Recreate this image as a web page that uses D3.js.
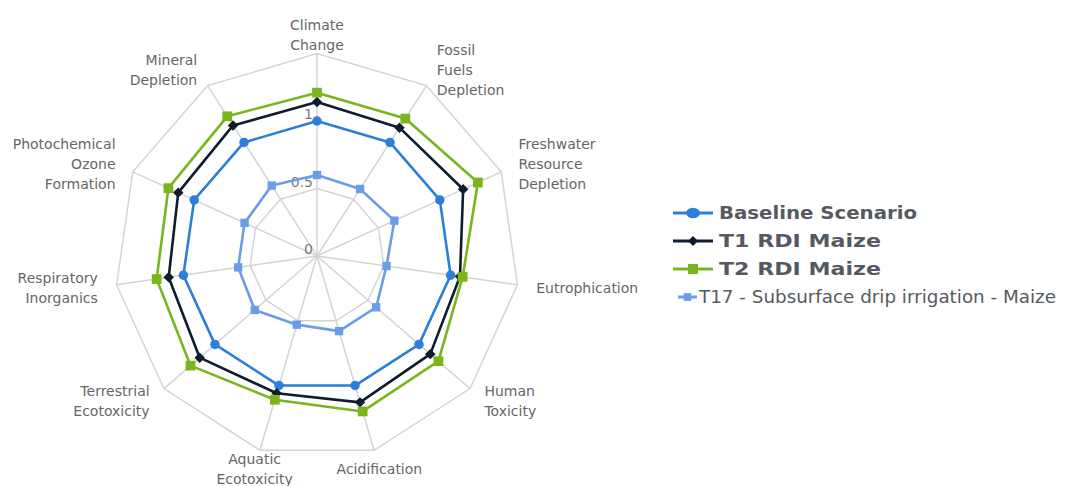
<!DOCTYPE html>
<html>
<head>
<meta charset="utf-8">
<script src="https://cdn.jsdelivr.net/npm/d3@7"></script>
<style>
  html, body { margin: 0; padding: 0; background: #fff; }
  svg { display: block; }
</style>
</head>
<body>
<svg id="chart" width="1068" height="486"></svg>
<script>
// Impact categories, clockwise from the top
const categories = [
  "Climate Change",
  "Fossil Fuels Depletion",
  "Freshwater Resource Depletion",
  "Eutrophication",
  "Human Toxicity",
  "Acidification",
  "Aquatic Ecotoxicity",
  "Terrestrial Ecotoxicity",
  "Respiratory Inorganics",
  "Photochemical Ozone Formation",
  "Mineral Depletion"
];

// How each category label is broken into lines
const categoryLines = [
  ["Climate", "Change"],
  ["Fossil", "Fuels", "Depletion"],
  ["Freshwater", "Resource", "Depletion"],
  ["Eutrophication"],
  ["Human", "Toxicity"],
  ["Acidification"],
  ["Aquatic", "Ecotoxicity"],
  ["Terrestrial", "Ecotoxicity"],
  ["Respiratory", "Inorganics"],
  ["Photochemical", "Ozone", "Formation"],
  ["Mineral", "Depletion"]
];

// Normalised impact values (baseline = 1)
const baselineScenario = [1, 1, 1, 1, 1, 1, 1, 1, 1, 1, 1];
const t1RdiMaize       = [1.14, 1.13, 1.19, 1.07, 1.11, 1.13, 1.06, 1.15, 1.11, 1.13, 1.15];
const t2RdiMaize       = [1.21, 1.21, 1.31, 1.09, 1.19, 1.20, 1.11, 1.24, 1.20, 1.21, 1.23];
const t17Subsurface    = [0.60, 0.59, 0.63, 0.52, 0.58, 0.58, 0.53, 0.61, 0.59, 0.59, 0.62];

const seriesNames = [
  "Baseline Scenario",
  "T1 RDI Maize",
  "T2 RDI Maize",
  "T17 - Subsurface drip irrigation - Maize"
];

const gridLevels = [0.5, 1, 1.5];
const tickValues = [0, 0.5, 1];
const tickLabels = ["0", "0.5", "1"];

// ---- layout ----
const svg = d3.select("#chart");
const cx = 317, cy = 256;
const outerR = 202.5;
const r = d3.scaleLinear().domain([0, 1.5]).range([0, outerR]);
const angle = d3.scaleLinear().domain([0, categories.length]).range([0, 2 * Math.PI]);

const g = svg.append("g").attr("transform", `translate(${cx},${cy})`);

const pt = (i, v) => [Math.sin(angle(i)) * r(v), -Math.cos(angle(i)) * r(v)];

// ---- grid ----
const gridColor = "#d4d4d4";
g.append("g").selectAll("polygon")
  .data(gridLevels)
  .join("polygon")
  .attr("points", lv => categories.map((_, i) => pt(i, lv).join(",")).join(" "))
  .attr("fill", "none")
  .attr("stroke", gridColor)
  .attr("stroke-width", 1.5);

g.append("g").selectAll("line")
  .data(categories)
  .join("line")
  .attr("x1", 0).attr("y1", 0)
  .attr("x2", (_, i) => pt(i, 1.5)[0])
  .attr("y2", (_, i) => pt(i, 1.5)[1])
  .attr("stroke", gridColor)
  .attr("stroke-width", 1.5);

// ---- value ticks along the top spoke ----
g.append("g").selectAll("text")
  .data(tickValues)
  .join("text")
  .attr("x", -4)
  .attr("y", v => -r(v) - 2)
  .attr("text-anchor", "end")
  .attr("font-family", "DejaVu Sans, sans-serif")
  .attr("font-size", 14)
  .attr("fill", "#7a7a7a")
  .text((_, i) => tickLabels[i]);

// ---- category labels ----
const labelR = outerR + 19;
const lineH = 20;
const labels = g.append("g")
  .attr("font-family", "DejaVu Sans, sans-serif")
  .attr("font-size", 14)
  .attr("fill", "#666666");

categories.forEach((name, i) => {
  const a = angle(i);
  const s = Math.sin(a);
  const x = s * labelR;
  const y = -Math.cos(a) * labelR;
  const anchor = Math.abs(s) < 0.3 ? "middle" : (s > 0 ? "start" : "end");
  const lines = categoryLines[i];
  const y0 = y - (lines.length - 1) * lineH / 2 + 5;
  const t = labels.append("text").attr("text-anchor", anchor);
  lines.forEach((ln, k) => {
    t.append("tspan").attr("x", x).attr("y", y0 + k * lineH).text(ln);
  });
});

// ---- series ----
const seriesData = [baselineScenario, t1RdiMaize, t2RdiMaize, t17Subsurface];
const colors = ["#2b7fd8", "#0f1c2e", "#79b51c", "#6a9ce8"];
const markers = ["circle", "diamond", "square", "square"];
const markerSize = [70, 55, 95, 70];

const radial = d3.lineRadial()
  .angle((_, i) => angle(i))
  .radius(v => r(v))
  .curve(d3.curveLinearClosed);

const drawOrder = [3, 0, 1, 2];
drawOrder.forEach(si => {
  const vals = seriesData[si];
  const sg = g.append("g");
  sg.append("path")
    .attr("d", radial(vals))
    .attr("fill", "none")
    .attr("stroke", colors[si])
    .attr("stroke-width", 2.6)
    .attr("stroke-linejoin", "round");

  const sym = d3.symbol()
    .type(markers[si] === "circle" ? d3.symbolCircle : d3.symbolSquare)
    .size(markerSize[si]);

  sg.selectAll("path.m")
    .data(vals)
    .join("path")
    .attr("class", "m")
    .attr("d", sym)
    .attr("transform", (v, i) => {
      const [x, y] = pt(i, v);
      return markers[si] === "diamond"
        ? `translate(${x},${y}) rotate(45)`
        : `translate(${x},${y})`;
    })
    .attr("fill", colors[si]);
});

// ---- legend ----
const legend = svg.append("g").attr("transform", "translate(673,213)");
const rowGap = 28;
const textWidths = [198, 162, 162, 357];

seriesNames.forEach((name, si) => {
  const row = legend.append("g").attr("transform", `translate(0,${si * rowGap})`);
  const isLast = si === 3;
  const x0 = isLast ? 5 : 0;
  const x1 = isLast ? 24 : 40;
  row.append("line")
    .attr("x1", x0).attr("x2", x1)
    .attr("y1", 0).attr("y2", 0)
    .attr("stroke", colors[si])
    .attr("stroke-width", 3);
  const sym = d3.symbol()
    .type(markers[si] === "circle" ? d3.symbolCircle : d3.symbolSquare)
    .size(isLast ? 60 : (markers[si] === "circle" ? 90 : markers[si] === "diamond" ? 50 : 100));
  row.append("path")
    .attr("d", sym)
    .attr("transform", markers[si] === "diamond"
      ? `translate(${(x0 + x1) / 2},0) rotate(45)`
      : markers[si] === "circle"
        ? `translate(${(x0 + x1) / 2},0) scale(1.3,1)`
        : `translate(${(x0 + x1) / 2},0)`)
    .attr("fill", colors[si]);
  row.append("text")
    .attr("x", isLast ? 26 : 46)
    .attr("y", 6)
    .attr("font-family", isLast ? "DejaVu Sans Condensed, DejaVu Sans, sans-serif" : "DejaVu Sans, sans-serif")
    .attr("font-weight", isLast ? "normal" : "bold")
    .attr("font-size", isLast ? 17 : 17)
    .attr("fill", "#555a60")
    .attr("textLength", textWidths[si])
    .attr("lengthAdjust", "spacingAndGlyphs")
    .text(name);
});
</script>
</body>
</html>
